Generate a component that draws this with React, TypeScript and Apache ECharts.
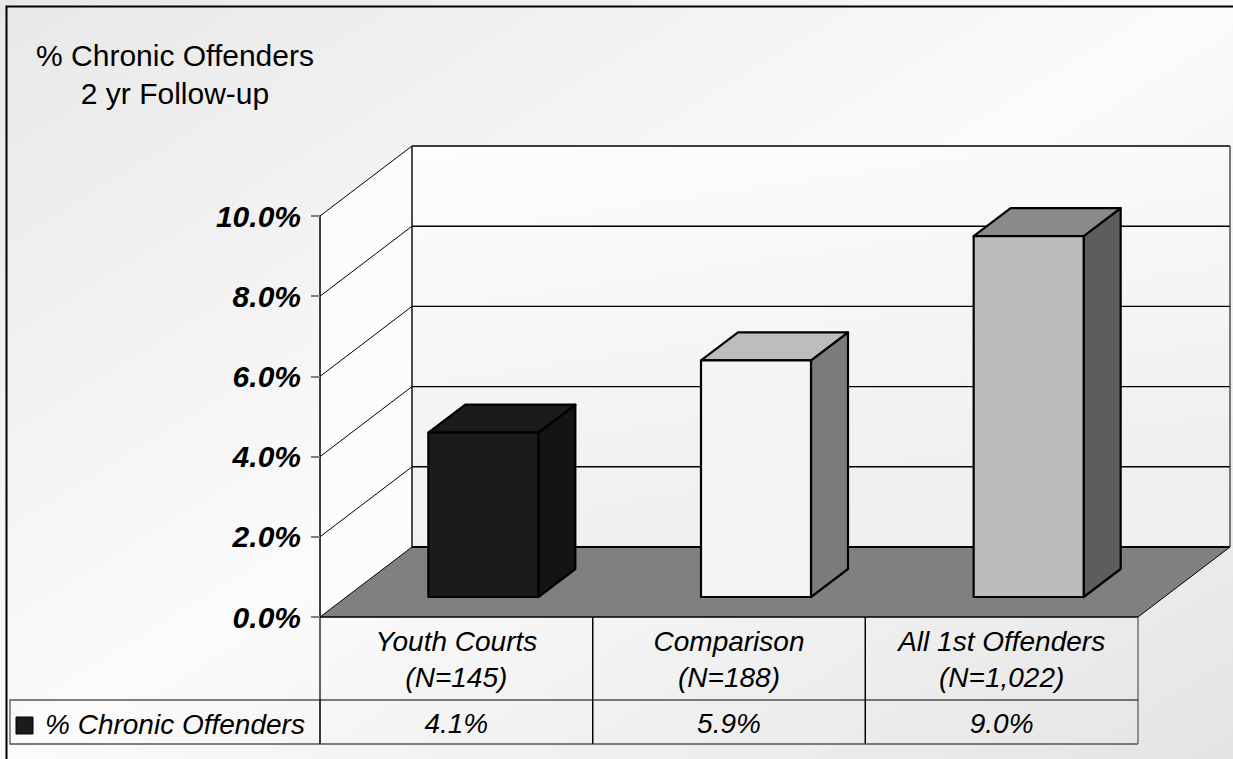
import React, { useEffect, useRef } from "react";
import * as echarts from "echarts";

// ---- data ----
const categories = ["Youth Courts", "Comparison", "All 1st Offenders"];
const sampleSizes = ["N=145", "N=188", "N=1,022"];
const chronicPct = [4.1, 5.9, 9.0];
const yTicks = [0, 2, 4, 6, 8, 10];
const seriesName = "% Chronic Offenders";
const titleLines = ["% Chronic Offenders", "2 yr Follow-up"];

// ---- styles ----
const frontColors = ["#1b1b1b", "#f5f5f5", "#bcbcbc"];
const topColors = ["#1b1b1b", "#bdbdbd", "#8a8a8a"];
const sideColors = ["#141414", "#7b7b7b", "#5d5d5d"];
const FONT = '"Liberation Sans", Arial, sans-serif';
const WALL_DX = 92;
const WALL_DY = 70;
const BAR_OX = 27;
const BAR_OY = 20;
const BAR_HALF = 55;
const BOX_DX = 37;
const BOX_DY = 28;
const ROW1 = 83;
const ROW2 = 127;

function line(x1: number, y1: number, x2: number, y2: number, stroke: string, lineWidth: number) {
  return { type: "line", shape: { x1, y1, x2, y2 }, style: { stroke, lineWidth } };
}

function renderFrame(params: any, api: any) {
  const cs = params.coordSys;
  const x0 = cs.x;
  const x1 = cs.x + cs.width;
  const yb = api.coord([0, 0])[1];
  const yTop = api.coord([0, yTicks[yTicks.length - 1]])[1];
  const dx = WALL_DX;
  const dy = WALL_DY;
  const children: any[] = [];
  children.push({
    type: "polygon",
    shape: { points: [[x0, yb], [x0, yTop], [x0 + dx, yTop - dy], [x0 + dx, yb - dy]] },
    style: { fill: "#fcfcfc" },
  });
  children.push({
    type: "rect",
    shape: { x: x0 + dx, y: yTop - dy, width: x1 - x0, height: yb - yTop },
    style: {
      fill: {
        type: "linear", x: 0, y: 0, x2: 0.3, y2: 1,
        colorStops: [{ offset: 0, color: "#fdfdfd" }, { offset: 1, color: "#efefef" }],
      },
    },
  });
  children.push({
    type: "polygon",
    shape: { points: [[x0, yb], [x0 + dx, yb - dy], [x1 + dx, yb - dy], [x1, yb]] },
    style: { fill: "#808080" },
  });
  yTicks.forEach((t) => {
    if (t === 0) return;
    const y = api.coord([0, t])[1];
    children.push(line(x0, y, x0 + dx, y - dy, "#000", 1));
    children.push(line(x0 + dx, y - dy, x1 + dx, y - dy, "#000", 1.4));
  });
  children.push(line(x0 + dx, yTop - dy, x0 + dx, yb - dy, "#000", 1.4));
  children.push(line(x1 + dx, yTop - dy, x1 + dx, yb - dy, "#444", 1.4));
  children.push(line(x0 + dx, yb - dy, x1 + dx, yb - dy, "#000", 2.2));
  children.push(line(x0, yb, x0 + dx, yb - dy, "#000", 1));
  children.push(line(x1, yb, x1 + dx, yb - dy, "#000", 1));
  children.push(line(x0, yb, x1, yb, "#000", 1.6));
  return { type: "group", children };
}

function renderBars(params: any, api: any) {
  const i = params.dataIndex;
  const ci = api.value(0);
  const v = api.value(1);
  const [cx, y0] = api.coord([ci, 0]);
  const yv = api.coord([ci, v])[1];
  const bw = api.size([1, 0])[0];
  const L = cx + BAR_OX - BAR_HALF;
  const R = cx + BAR_OX + BAR_HALF;
  const B = y0 - BAR_OY;
  const T = yv - BAR_OY;
  const strokeStyle = { stroke: "#000", lineWidth: 2.2, lineJoin: "round" };
  const cL = cx - bw / 2;
  const cR = cx + bw / 2;
  const textStyle = (text: string, y: number) => ({
    type: "text",
    x: cx,
    y,
    style: {
      text, align: "center", verticalAlign: "middle",
      fontSize: 28, fontStyle: "italic", fontFamily: FONT, fill: "#000",
    },
  });
  return {
    type: "group",
    children: [
      {
        type: "polygon",
        shape: { points: [[R, B], [R, T], [R + BOX_DX, T - BOX_DY], [R + BOX_DX, B - BOX_DY]] },
        style: { fill: sideColors[i], ...strokeStyle },
      },
      {
        type: "polygon",
        shape: { points: [[L, T], [R, T], [R + BOX_DX, T - BOX_DY], [L + BOX_DX, T - BOX_DY]] },
        style: { fill: topColors[i], ...strokeStyle },
      },
      {
        type: "polygon",
        shape: { points: [[L, B], [R, B], [R, T], [L, T]] },
        style: { fill: frontColors[i], ...strokeStyle },
      },
      line(cL, y0, cL, y0 + ROW2, "#000", 1.2),
      line(cR, y0, cR, y0 + ROW2, i === categories.length - 1 ? "#555" : "#000", 1.2),
      line(cL, y0 + ROW1, cR, y0 + ROW1, "#000", 1.2),
      line(cL, y0 + ROW2, cR, y0 + ROW2, "#555", 1.4),
      textStyle(categories[i], y0 + 24),
      textStyle("(" + sampleSizes[i] + ")", y0 + 60),
      textStyle(v.toFixed(1) + "%", y0 + 106),
    ],
  };
}

export default function App() {
  const ref = useRef<HTMLDivElement>(null);
  useEffect(() => {
    if (!ref.current) return;
    const chart = echarts.init(ref.current, null, { renderer: "svg" });
    chart.setOption({
      animation: false,
      grid: { left: 320, top: 216, width: 818, height: 401 },
      xAxis: { type: "category", data: categories, show: false },
      yAxis: {
        type: "value",
        min: 0,
        max: 10,
        interval: 2,
        z: 10,
        axisLine: { show: true, lineStyle: { color: "#000", width: 1.5 } },
        axisTick: { show: true, length: 9, lineStyle: { color: "#808080", width: 2 } },
        splitLine: { show: false },
        axisLabel: {
          margin: 19,
          formatter: (val: number) => val.toFixed(1) + "%",
          fontSize: 30,
          fontWeight: "bold",
          fontStyle: "italic",
          fontFamily: FONT,
          color: "#000",
        },
      },
      graphic: [
        {
          type: "rect",
          z: -100,
          shape: { x: 0, y: 0, width: 1233, height: 759 },
          style: {
            fill: {
              type: "linear", x: 0, y: 0, x2: 1, y2: 1,
              colorStops: [
                { offset: 0, color: "#e8e8e8" },
                { offset: 0.5, color: "#fbfbfb" },
                { offset: 1, color: "#e4e4e4" },
              ],
            },
          },
        },
        {
          type: "rect",
          z: -90,
          shape: { x: 6.5, y: 6.5, width: 1300, height: 800 },
          style: { fill: "none", stroke: "#000", lineWidth: 2 },
        },
        {
          type: "text",
          x: 175,
          y: 74,
          style: {
            text: titleLines.join("\n"),
            align: "center",
            verticalAlign: "middle",
            lineHeight: 38,
            fontSize: 30,
            fontFamily: FONT,
            fill: "#000",
          },
        },
        {
          type: "rect",
          shape: { x: 10, y: 700, width: 310, height: 44 },
          style: { fill: "none", stroke: "#555", lineWidth: 1.3 },
        },
        {
          type: "rect",
          shape: { x: 16, y: 717, width: 17, height: 17 },
          style: { fill: frontColors[0], stroke: "#000", lineWidth: 1 },
        },
        {
          type: "text",
          x: 45,
          y: 724,
          style: {
            text: seriesName,
            align: "left",
            verticalAlign: "middle",
            fontSize: 28,
            fontStyle: "italic",
            fontFamily: FONT,
            fill: "#000",
          },
        },
      ],
      series: [
        {
          type: "custom",
          name: "frame",
          z: 1,
          silent: true,
          renderItem: renderFrame,
          data: [[0, 0]],
        },
        {
          type: "custom",
          name: seriesName,
          z: 3,
          renderItem: renderBars,
          data: chronicPct.map((v, i) => [i, v]),
        },
      ],
    });
    return () => chart.dispose();
  }, []);
  return (
    <div
      ref={ref}
      style={{ position: "absolute", left: 0, top: 0, width: 1233, height: 759 }}
    />
  );
}
